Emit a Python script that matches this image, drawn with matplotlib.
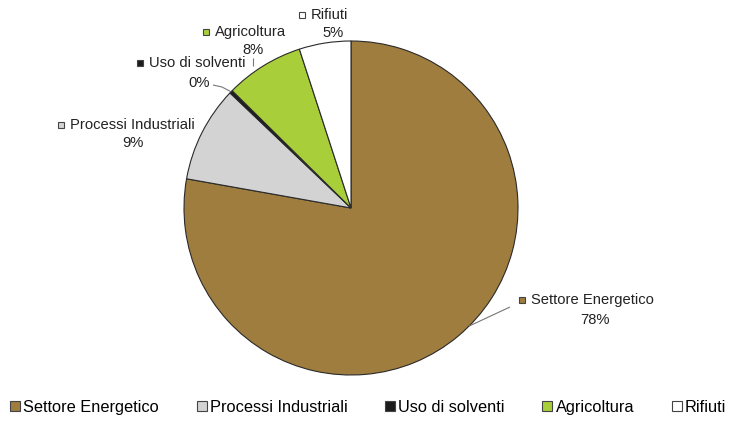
import matplotlib.pyplot as plt
from matplotlib.lines import Line2D
import numpy as np

plt.rcParams['font.family'] = ['Liberation Sans', 'DejaVu Sans']

categories = ['Settore Energetico', 'Processi Industriali', 'Uso di solventi', 'Agricoltura', 'Rifiuti']
shares = [77.8, 9.3, 0.3, 7.6, 5.0]
colors = ['#9f7d3f', '#d3d3d3', '#1c1c1c', '#a8cf3a', '#ffffff']
pct_labels = ['78%', '9%', '0%', '8%', '5%']

# label block positions in pixels (square of the first line, centre of % line)
label_px = {
    'Settore Energetico': ((522, 300), (595, 320)),
    'Processi Industriali': ((61, 125), (133, 143)),
    'Uso di solventi': ((140, 63), (199, 83)),
    'Agricoltura': ((206, 32), (253, 50)),
    'Rifiuti': ((302, 15), (333, 33)),
}

W, H = 729, 426
CX, CY, R = 351, 208, 167


def to_data(x, y):
    return (x - CX) / R, (CY - y) / R


def leader(points, color='#777777'):
    xs = [p[0] for p in points]
    ys = [p[1] for p in points]
    ax.plot(xs, ys, color=color, lw=0.8, solid_capstyle='butt')


fig = plt.figure(figsize=(W / 100, H / 100), dpi=100)
ax = fig.add_axes([0, 0, 1, 1])

wedges, _ = ax.pie(shares, colors=colors, startangle=90, counterclock=False, radius=1,
                   wedgeprops=dict(edgecolor='#2a2a2a', linewidth=0.8))

# pie() resets the limits, so set them afterwards
ax.set_xlim(-CX / R, (W - CX) / R)
ax.set_ylim(-(H - CY) / R, CY / R)
ax.set_aspect('equal')
ax.set_axis_off()

for name, col, pct in zip(categories, colors, pct_labels):
    (sx, sy), (px, py) = label_px[name]
    x0, y0 = to_data(sx, sy)
    ax.plot([x0], [y0], marker='s', markersize=5, color=col, markeredgecolor='#444444',
            markeredgewidth=0.8, clip_on=False)
    ax.text(x0 + 9 / R, y0, name, ha='left', va='center', fontsize=10.6, color='#222222')
    x1, y1 = to_data(px, py)
    ax.text(x1, y1, pct, ha='center', va='center', fontsize=10.6, color='#222222')

# leader lines
edge = np.radians(-45)
leader([(np.cos(edge), np.sin(edge)), to_data(510, 307)])

mid_solv = np.radians(90 - 360 * (sum(shares[:2]) + shares[2] / 2) / 100)
leader([to_data(213, 85), to_data(222, 87), (np.cos(mid_solv), np.sin(mid_solv))])

leader([to_data(253, 58), to_data(253, 66)])

handles = [Line2D([0], [0], marker='s', linestyle='none', markersize=7, markerfacecolor=c,
                  markeredgecolor='#444444', markeredgewidth=0.8) for c in colors]
fig.legend(handles, categories, loc='lower center', bbox_to_anchor=(0.505, 0.0), ncol=5,
           frameon=False, fontsize=11.8, handlelength=0.6, handletextpad=0.2,
           columnspacing=2.3, borderaxespad=0.3)

fig.savefig('out.png', dpi=100)
